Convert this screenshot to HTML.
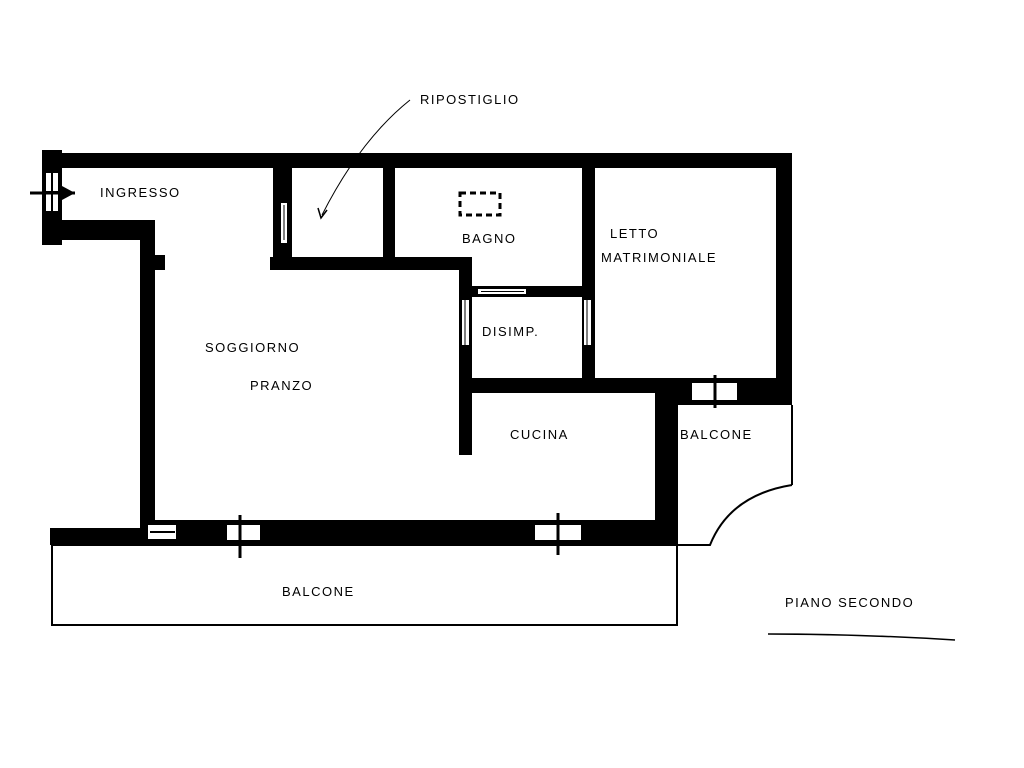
<!DOCTYPE html>
<html><head><meta charset="utf-8"><style>
html,body{margin:0;padding:0;background:#fff;}
svg{display:block}
text{font-family:"Liberation Sans",sans-serif;font-size:13px;fill:#000;letter-spacing:1.5px}
</style></head><body>
<svg width="1024" height="768" viewBox="0 0 1024 768" xmlns="http://www.w3.org/2000/svg">
<rect width="1024" height="768" fill="#fff"/>
<g fill="#000">
<rect x="42" y="153" width="750" height="15"/>
<rect x="42" y="150" width="20" height="95"/>
<rect x="58" y="220" width="97" height="20"/>
<rect x="140" y="220" width="15" height="310"/>
<rect x="150" y="255" width="15" height="15"/>
<rect x="273" y="165" width="19" height="105"/>
<rect x="383" y="165" width="12" height="95"/>
<rect x="270" y="257" width="202" height="13"/>
<rect x="459" y="257" width="13" height="198"/>
<rect x="582" y="165" width="13" height="215"/>
<rect x="472" y="286" width="110" height="11"/>
<rect x="472" y="378" width="320" height="15"/>
<rect x="655" y="378" width="22" height="167"/>
<rect x="677" y="378" width="115" height="27"/>
<rect x="776" y="158" width="16" height="247"/>
<rect x="140" y="520" width="537" height="25"/>
<rect x="50" y="528" width="100" height="17"/>
</g>
<g fill="#fff">
<rect x="46" y="173" width="12" height="38"/>
<rect x="281" y="203" width="6" height="40"/>
<rect x="462" y="300" width="7" height="45"/>
<rect x="478" y="289" width="48" height="5"/>
<rect x="584" y="300" width="7" height="45"/>
<rect x="692" y="383" width="45" height="17"/>
<rect x="148" y="525" width="28" height="14"/>
<rect x="227" y="525" width="33" height="15"/>
<rect x="535" y="525" width="46" height="15"/>
</g>
<g stroke="#000" fill="none" stroke-width="2">
<line x1="150" y1="532" x2="175" y2="532"/>
<line x1="46" y1="192" x2="58" y2="192"/>
<line x1="52" y1="173" x2="52" y2="211"/>
<line x1="30" y1="193" x2="75" y2="193" stroke-width="3"/>
<line x1="481" y1="291.5" x2="524" y2="291.5" stroke-width="1"/>
<line x1="465" y1="300" x2="465" y2="345" stroke-width="1"/>
<line x1="587" y1="300" x2="587" y2="345" stroke-width="1"/>
<line x1="284" y1="205" x2="284" y2="240" stroke-width="1"/>
<line x1="715" y1="375" x2="715" y2="408" stroke-width="3"/>
<line x1="240" y1="515" x2="240" y2="558" stroke-width="3"/>
<line x1="558" y1="513" x2="558" y2="555" stroke-width="3"/>
<rect x="460" y="193" width="40" height="22" stroke-dasharray="6,4" stroke-width="3"/>
<rect x="52" y="545" width="625" height="80" stroke-width="2"/>
<line x1="677" y1="405" x2="677" y2="562"/>
<line x1="792" y1="405" x2="792" y2="485"/>
<path d="M792 485 Q730 495 710 545 L677 545"/>
<path d="M410 100 Q360 140 322 215" stroke-width="1"/>
<path d="M318 208 L321 218 L327 210" stroke-width="1.5"/>
<path d="M768 634 Q860 634 955 640" stroke-width="1.5"/>
</g>
<polygon points="62,186 75,193 62,200" fill="#000"/>
<text x="100" y="197">INGRESSO</text>
<text x="420" y="104" font-size="12">RIPOSTIGLIO</text>
<text x="462" y="243">BAGNO</text>
<text x="610" y="238">LETTO</text>
<text x="601" y="262" letter-spacing="1">MATRIMONIALE</text>
<text x="482" y="336">DISIMP.</text>
<text x="205" y="352">SOGGIORNO</text>
<text x="250" y="390">PRANZO</text>
<text x="510" y="439">CUCINA</text>
<text x="680" y="439">BALCONE</text>
<text x="282" y="596">BALCONE</text>
<text x="785" y="607">PIANO SECONDO</text>
</svg>
</body></html>
